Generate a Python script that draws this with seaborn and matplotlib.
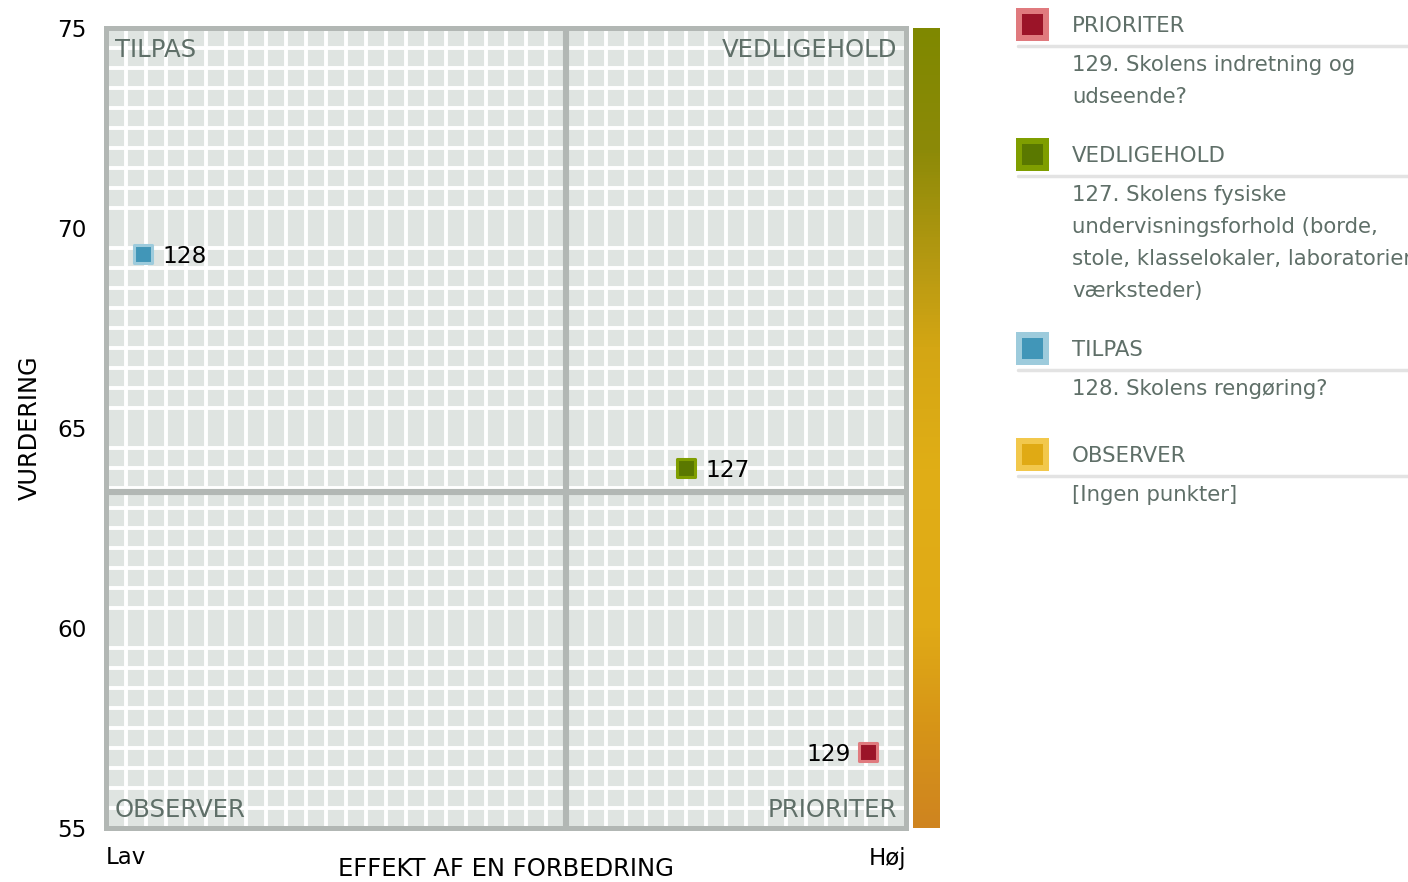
import matplotlib
matplotlib.use("Agg")
import matplotlib.pyplot as plt
import seaborn as sns
import numpy as np
import pandas as pd
from matplotlib.colors import LinearSegmentedColormap
from matplotlib.patches import Rectangle

# data
labels = ["127", "128", "129"]
effekt = [72.5, 4.6, 95.3]
vurdering = [64.0, 69.35, 56.9]
kvadrant = ["VEDLIGEHOLD", "TILPAS", "PRIORITER"]
x_split = 57.5
y_split = 63.4
y_ticks = [55, 60, 65, 70, 75]

legend_titles = ["PRIORITER", "VEDLIGEHOLD", "TILPAS", "OBSERVER"]
legend_items = [
    ["129. Skolens indretning og", "udseende?"],
    ["127. Skolens fysiske", "undervisningsforhold (borde,",
     "stole, klasselokaler, laboratorier,", "værksteder)"],
    ["128. Skolens rengøring?"],
    ["[Ingen punkter]"],
]

fill = {"PRIORITER": "#9b1428", "VEDLIGEHOLD": "#5a7800",
        "TILPAS": "#4196b8", "OBSERVER": "#e0aa14"}
edge = {"PRIORITER": "#e07a7e", "VEDLIGEHOLD": "#7f9e00",
        "TILPAS": "#9dcbdc", "OBSERVER": "#f2c84c"}

df = pd.DataFrame({"label": labels, "effekt": effekt,
                   "vurdering": vurdering, "kvadrant": kvadrant})

sns.set_theme(style="white")
plt.rcParams["font.family"] = ["DejaVu Sans"]

W, H = 1408, 882
fig = plt.figure(figsize=(W / 100, H / 100), dpi=100)
ax = fig.add_axes([106 / W, 1 - 828 / H, 800 / W, 800 / H])

ax.set_facecolor("#dfe4e1")
ax.set_xlim(0, 100)
ax.set_ylim(55, 75)
ax.set_xticks(np.arange(2.5, 100, 2.5), minor=True)
ax.set_yticks(np.arange(55.5, 75, 0.5), minor=True)
ax.grid(which="minor", color="white", linewidth=2.8)
ax.grid(which="major", visible=False)
ax.set_xticks([])
ax.set_yticks(y_ticks)
ax.set_yticklabels([str(t) for t in y_ticks], fontsize=16.7, color="black")
ax.tick_params(axis="y", which="both", length=0, pad=14)
ax.tick_params(axis="x", which="both", length=0)
for s in ax.spines.values():
    s.set_color("#b2b7b4")
    s.set_linewidth(3.6)

ax.axvline(x_split, color="#b2b7b4", lw=4.4, zorder=2)
ax.axhline(y_split, color="#b2b7b4", lw=4.4, zorder=2)

qcol = "#5f6f68"
qfs = 17.6
ax.text(0.011, 0.988, "TILPAS", transform=ax.transAxes, ha="left", va="top",
        fontsize=qfs, color=qcol)
ax.text(0.989, 0.988, "VEDLIGEHOLD", transform=ax.transAxes, ha="right", va="top",
        fontsize=qfs, color=qcol)
ax.text(0.011, 0.007, "OBSERVER", transform=ax.transAxes, ha="left", va="bottom",
        fontsize=qfs, color=qcol)
ax.text(0.989, 0.007, "PRIORITER", transform=ax.transAxes, ha="right", va="bottom",
        fontsize=qfs, color=qcol)

for k in kvadrant:
    sub = df[df["kvadrant"] == k]
    sns.scatterplot(data=sub, x="effekt", y="vurdering", marker="s", s=150,
                    color=fill[k], edgecolor=edge[k], linewidth=2.2,
                    ax=ax, zorder=5, legend=False)

for _, r in df.iterrows():
    if r["effekt"] > 90:
        ax.annotate(r["label"], (r["effekt"], r["vurdering"]), xytext=(-13, -1.5),
                    textcoords="offset points", ha="right", va="center",
                    fontsize=16.7, color="black")
    else:
        ax.annotate(r["label"], (r["effekt"], r["vurdering"]), xytext=(14, -2),
                    textcoords="offset points", ha="left", va="center",
                    fontsize=16.7, color="black")

ax.set_xlabel("")
ax.set_ylabel("")
fig.text(30 / W, 1 - 428 / H, "VURDERING", rotation=90, ha="center", va="center",
         fontsize=17.3, color="black")
fig.text(506 / W, 1 - 869 / H, "EFFEKT AF EN FORBEDRING", ha="center", va="center",
         fontsize=17.5, color="black")
fig.text(106 / W, 1 - 858 / H, "Lav", ha="left", va="center", fontsize=16.5,
         color="black")
fig.text(906 / W, 1 - 858 / H, "Høj", ha="right", va="center", fontsize=16.5,
         color="black")

# gradient bar
cax = fig.add_axes([913 / W, 1 - 828 / H, 27 / W, 800 / H])
cmap = LinearSegmentedColormap.from_list("grad", [
    (0.0, "#7f8800"), (0.15, "#8c8a08"), (0.3, "#b89a12"), (0.4, "#d4a614"),
    (0.55, "#e0ae16"), (0.75, "#e0aa16"), (0.88, "#d69418"), (1.0, "#cf8420")])
cax.imshow(np.linspace(0, 1, 256).reshape(-1, 1), aspect="auto", cmap=cmap)
cax.axis("off")

# legend panel
lcol = "#5f6f68"
tops = [8, 138, 332, 438]
for title, items, top in zip(legend_titles, legend_items, tops):
    fig.patches.append(Rectangle((1016 / W, 1 - (top + 33) / H), 33 / W, 33 / H,
                                 transform=fig.transFigure, facecolor=edge[title],
                                 edgecolor="none"))
    fig.patches.append(Rectangle((1022 / W, 1 - (top + 27) / H), 21 / W, 21 / H,
                                 transform=fig.transFigure, facecolor=fill[title],
                                 edgecolor="none"))
    fig.text(1072 / W, 1 - (top + 18) / H, title, ha="left", va="center",
             fontsize=15.3, color=lcol)
    fig.add_artist(plt.Line2D([1018 / W, 1], [1 - (top + 38) / H] * 2,
                              transform=fig.transFigure, color="#e3e3e3", lw=2.5))
    for i, line in enumerate(items):
        fig.text(1072 / W, 1 - (top + 57 + 32 * i) / H, line, ha="left", va="center",
                 fontsize=15.3, color=lcol)

fig.savefig("out.png", dpi=100)
